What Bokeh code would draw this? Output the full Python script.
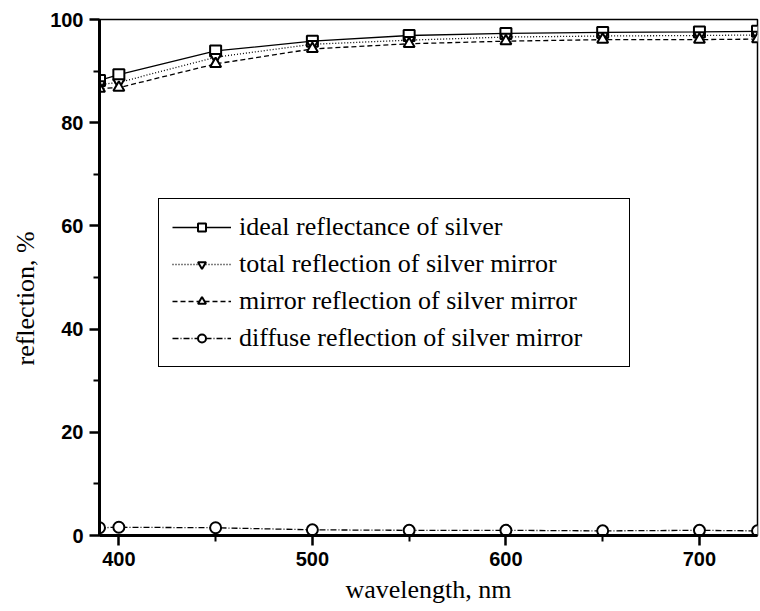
from bokeh.plotting import figure
from bokeh.models import Range1d, Legend, LegendItem, FixedTicker, Title
from bokeh.embed import file_html
from bokeh.resources import INLINE

# ---- data ----
wavelength = [390, 400, 450, 500, 550, 600, 650, 700, 730]
ideal = [88.2, 89.3, 93.9, 95.8, 96.9, 97.3, 97.5, 97.6, 97.7]
total = [87.4, 87.8, 92.7, 95.2, 96.0, 96.6, 96.8, 96.9, 97.0]
mirror = [86.6, 86.8, 91.4, 94.3, 95.3, 95.8, 96.1, 96.1, 96.2]
diffuse = [1.5, 1.6, 1.5, 1.1, 1.0, 1.0, 0.9, 1.0, 0.9]

labels = [
    "ideal reflectance of silver",
    "total reflection of silver mirror",
    "mirror reflection of silver mirror",
    "diffuse reflection of silver mirror",
]
x_ticks = [400, 500, 600, 700]
x_minor = [450, 550, 650]
y_ticks = [0, 20, 40, 60, 80, 100]
y_minor = [10, 30, 50, 70, 90]
x_title = "wavelength, nm"
y_title = "reflection, %"

SERIF = "Liberation Serif"
SANS = "Liberation Sans"

p = figure(width=760, height=611, output_backend="svg", toolbar_location=None,
           x_range=Range1d(390, 730), y_range=Range1d(0, 100),
           min_border_left=99, min_border_right=3, min_border_top=19,
           min_border_bottom=76)
p.xgrid.visible = False
p.ygrid.visible = False
p.outline_line_color = "black"
p.outline_line_width = 1.5
p.background_fill_color = "white"
p.border_fill_color = "white"

for ax in (p.xaxis[0], p.yaxis[0]):
    ax.axis_line_width = 3
    ax.axis_line_color = "black"
    ax.major_tick_line_width = 2.5
    ax.minor_tick_line_width = 2
    ax.major_tick_in = 0
    ax.major_tick_out = 10
    ax.minor_tick_in = 0
    ax.minor_tick_out = 6
    ax.major_label_text_font = SANS
    ax.major_label_text_font_style = "bold"
    ax.major_label_text_font_size = "20px"
    ax.major_label_text_color = "black"
    ax.axis_label_text_font = SERIF
    ax.axis_label_text_font_style = "normal"
    ax.axis_label_text_font_size = "26px"
    ax.axis_label_text_color = "black"

p.xaxis[0].ticker = FixedTicker(ticks=x_ticks, minor_ticks=x_minor)
p.yaxis[0].ticker = FixedTicker(ticks=y_ticks, minor_ticks=y_minor)
p.xaxis[0].axis_label = x_title
p.xaxis[0].major_label_standoff = 6
p.yaxis[0].major_label_standoff = 6
p.xaxis[0].axis_label_standoff = 6

# y title as a side title so it can be shifted along the axis like the reference
ytitle = Title(text=y_title, align="left", offset=170, standoff=16,
               text_font=SERIF, text_font_size="26px", text_font_style="normal",
               text_color="black")
p.add_layout(ytitle, "left")

series = [
    (ideal, "solid", "square"),
    (total, "1 2", "inverted_triangle"),
    (mirror, "5 3", "triangle"),
    (diffuse, "6 2 1 2", "circle"),
]

items = []
for (vals, dash, marker), lab in zip(series, labels):
    ln = p.line(wavelength, vals, line_color="black", line_width=1.3, line_dash=dash)
    sc = p.scatter(wavelength, vals, marker=marker, size=11, line_color="black",
                   line_width=2, fill_color="white")
    items.append(LegendItem(label=lab, renderers=[ln, sc]))

legend = Legend(items=items, location=(59, 168))
legend.label_text_font = SERIF
legend.label_text_font_size = "26px"
legend.label_text_color = "black"
legend.glyph_width = 59
legend.glyph_height = 20
legend.label_height = 30
legend.label_width = 377
legend.label_standoff = 8
legend.spacing = 7
legend.padding = 13
legend.margin = 0
legend.border_line_color = "black"
legend.border_line_alpha = 1.0
legend.border_line_width = 1.5
legend.background_fill_color = "white"
legend.background_fill_alpha = 1.0
p.add_layout(legend, "center")

open("out.html", "w").write(file_html(p, INLINE))
